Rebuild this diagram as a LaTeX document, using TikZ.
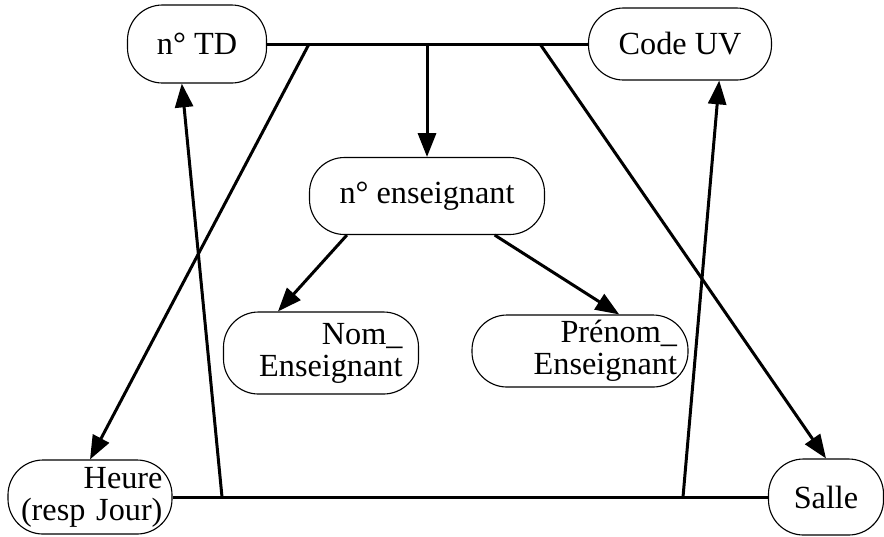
\documentclass[tikz,border=0pt]{standalone}
\usepackage{fontspec}
\setmainfont{Liberation Serif}
\usetikzlibrary{arrows.meta, positioning}
\tikzset{
    attr/.style = {draw, rectangle, rounded corners=14pt, line width=0.45pt, inner sep=0pt,
                   font=\fontsize{12.9}{12.8}\selectfont},
    dep/.style = {line width=1.2pt, -{Triangle[length=9.5pt,width=7.2pt]}},
    bar/.style = {line width=1.2pt}
}

\begin{document}
\begin{tikzpicture}[x=0.4pt, y=-0.4pt]
  \useasboundingbox (0,0) rectangle (884,536);

  \node[attr, minimum width=55.6pt, minimum height=31.2pt] (td) at (197,44) {n° TD};
  \node[attr, minimum width=73.2pt, minimum height=28.8pt] (uv) at (680,44) {Code UV};
  \node[attr, minimum width=94pt, minimum height=30.8pt] (ens) at (427,196) {n° enseignant};
  \node[attr, minimum width=78pt, minimum height=32.8pt, text width=65.2pt, align=right] (nom) at (321,353) {Nom\_\\Enseignant};
  \node[attr, minimum width=86.4pt, minimum height=28.8pt, text width=77.6pt, align=right] (prenom) at (580,351) {Prénom\_\\Enseignant};
  \node[attr, minimum width=65.6pt, minimum height=29.6pt, text width=58pt, align=right] (heure) at (90,497) {Heure\\(resp~Jour)};
  \node[attr, minimum width=46pt, minimum height=30.4pt] (salle) at (826,497) {Salle};

  \coordinate (j1) at (309,44);
  \coordinate (j2) at (427,44);
  \coordinate (j3) at (540,44);
  \coordinate (k1) at (222,497);
  \coordinate (k2) at (683,497);

  \draw[bar] (td) -- (uv);
  \draw[bar] (heure) -- (salle);
  \draw[dep] (j1) -- (heure.north);
  \draw[dep] (j2) -- (ens.north);
  \draw[dep] (j3) -- (salle.north);
  \draw[dep] (k1) -- (td.-111);
  \draw[dep] (k2) -- (uv.-43);
  \draw[dep] (ens.206) -- (nom.136);
  \draw[dep] (ens.-30) -- (prenom.43);
\end{tikzpicture}
\end{document}
